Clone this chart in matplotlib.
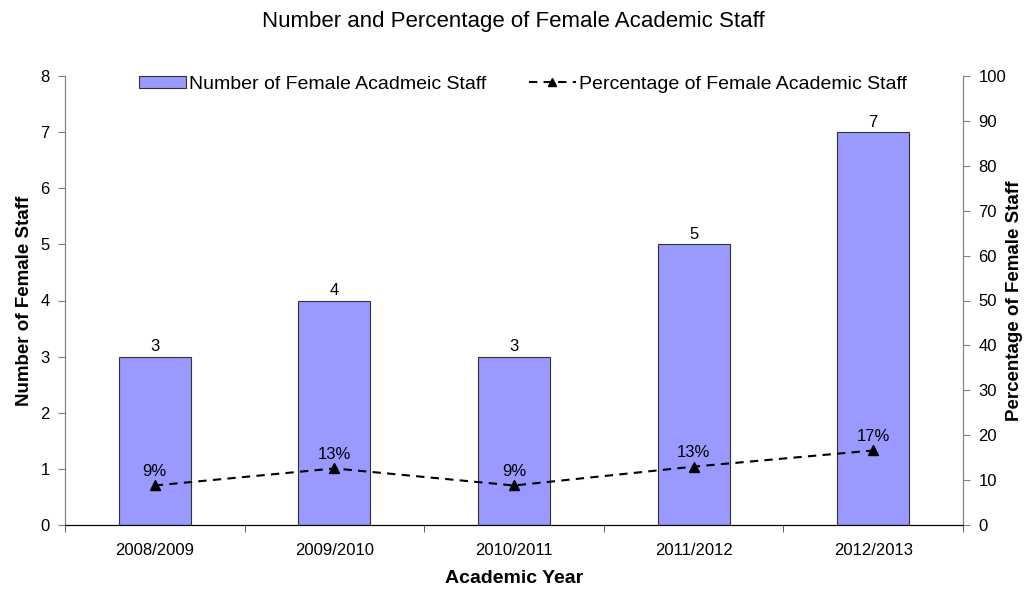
import matplotlib
matplotlib.use("Agg")
import matplotlib.pyplot as plt
import numpy as np

years = ["2008/2009", "2009/2010", "2010/2011", "2011/2012", "2012/2013"]
female_staff = [3, 4, 3, 5, 7]
female_pct = [8.8, 12.6, 8.8, 13.0, 16.6]

plt.rcParams['font.family'] = ['Liberation Sans', 'DejaVu Sans']

fig = plt.figure(figsize=(10.26, 5.91), dpi=100)
ax = fig.add_axes([65/1026, 1-525/591, (963-65)/1026, (525-76)/591])
ax2 = ax.twinx()

x = np.arange(len(years))
bars = ax.bar(x, female_staff, width=0.4, color='#9999FF', edgecolor='#333333', linewidth=0.8,
              label='Number of Female Acadmeic Staff', zorder=2)
for xi, v in zip(x, female_staff):
    ax.text(xi, v + 0.04, f"{v}", ha='center', va='bottom', fontsize=12)

ax.set_xlim(-0.5, len(years) - 0.5)
ax.set_ylim(0, 8)
ax.set_yticks(range(0, 9))
ax.set_xticks(x)
ax.set_xticklabels(years, fontsize=12)
ax.set_xticks(np.arange(-0.5, len(years)), minor=True)
ax.tick_params(axis='x', which='major', length=0, pad=13)
ax.tick_params(axis='x', which='minor', length=5, direction='out', color='#444444')
ax.tick_params(axis='y', labelsize=12, length=5, direction='out', color='#808080', pad=6)

line, = ax2.plot(x, female_pct, linestyle=(0, (4, 3)), color='black', linewidth=1.5,
                 marker='^', markersize=7, label='Percentage of Female Academic Staff', zorder=3)
for xi, v in zip(x, female_pct):
    ax2.text(xi, v + 1.4, f"{v:.0f}%", ha='center', va='bottom', fontsize=12)
ax2.set_ylim(0, 100)
ax2.set_yticks(range(0, 101, 10))
ax2.tick_params(axis='y', labelsize=12, length=5, direction='out', color='#808080', pad=6)

for a in (ax, ax2):
    a.spines['top'].set_visible(False)
    a.spines['left'].set_color('#808080')
    a.spines['right'].set_color('#808080')
    a.spines['bottom'].set_color('black')

ax.set_ylabel('Number of Female Staff', fontsize=13.5, fontweight='bold')
ax.yaxis.set_label_coords(-32/898, 0.5)
ax2.set_ylabel('Percentage of Female Staff', fontsize=13.5, fontweight='bold', rotation=90)
ax2.yaxis.set_label_coords(1 + 43/898, 0.5)
ax.set_xlabel('Academic Year', fontsize=14, fontweight='bold')
ax.xaxis.set_label_coords(0.5, -45/449)
fig.suptitle('Number and Percentage of Female Academic Staff', fontsize=16, y=1-22/591, va='center')

ax.legend([bars, line], ['Number of Female Acadmeic Staff', 'Percentage of Female Academic Staff'],
          loc='upper center', bbox_to_anchor=(0.51, 1.04), ncol=2, frameon=False, fontsize=14,
          handlelength=2.4, handleheight=0.6, handletextpad=0.15, columnspacing=2.2, markerscale=0.8)

fig.savefig('out.png', dpi=100)
